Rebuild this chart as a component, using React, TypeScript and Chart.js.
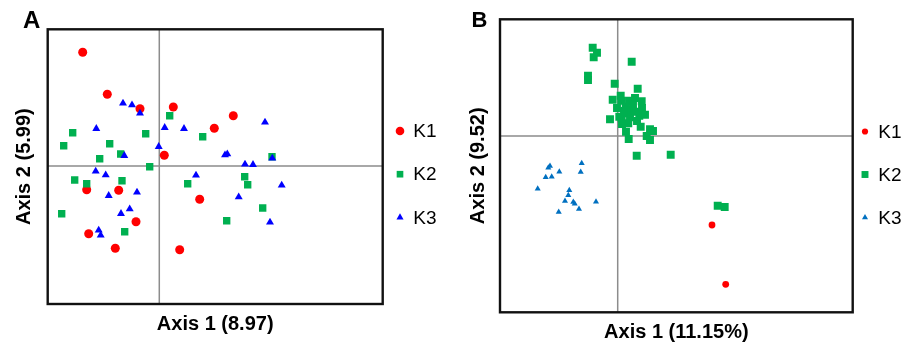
import React, { useEffect, useRef } from 'react';
import { Chart, registerables } from 'chart.js';
import { drawPoint } from 'chart.js/helpers';

Chart.register(...registerables);

type Pt = [number, number];

// ---------- shared ----------
const seriesLabels = ['K1', 'K2', 'K3'];
const seriesStyles = ['circle', 'rect', 'triangle'];

// ---------- panel A ----------
const aTitleX = 'Axis 1 (8.97)';
const aTitleY = 'Axis 2 (5.99)';
const aRangeX = [-1.116, 2.234];
const aRangeY = [-1.38, 1.367];

const aK1: Pt[] = [
  [-0.766, 1.137], [-0.52, 0.717], [-0.193, 0.573], [0.14, 0.59], [0.74, 0.503],
  [0.55, 0.377], [0.05, 0.107], [-0.726, -0.237], [-0.406, -0.243], [0.404, -0.333],
  [-0.233, -0.557], [-0.706, -0.677], [-0.44, -0.823], [0.204, -0.837],
];
const aK2: Pt[] = [
  [-0.866, 0.333], [-0.956, 0.203], [-0.496, 0.223], [-0.136, 0.323], [0.104, 0.503],
  [0.434, 0.293], [-0.596, 0.073], [-0.386, 0.12], [-0.096, -0.007], [1.127, 0.093],
  [-0.846, -0.14], [-0.726, -0.177], [-0.373, -0.147], [0.284, -0.177], [0.854, -0.107],
  [0.884, -0.187], [-0.976, -0.477], [1.034, -0.42], [0.674, -0.547], [-0.346, -0.657],
];
const aK3: Pt[] = [
  [-0.363, 0.627], [-0.273, 0.61], [-0.193, 0.527], [-0.63, 0.373], [0.054, 0.383],
  [0.247, 0.373], [1.057, 0.437], [-0.006, 0.193], [-0.35, 0.103], [0.657, 0.11],
  [0.68, 0.12], [0.857, 0.017], [0.937, 0.013], [1.13, 0.077], [-0.636, -0.053],
  [-0.536, -0.09], [0.367, -0.093], [1.224, -0.193], [-0.506, -0.297], [-0.223, -0.263],
  [0.794, -0.31], [-0.383, -0.477], [-0.296, -0.43], [1.107, -0.563], [-0.606, -0.643],
  [-0.586, -0.693],
];

// ---------- panel B ----------
const bTitleX = 'Axis 1 (11.15%)';
const bTitleY = 'Axis 2 (9.52)';
const bRangeX = [-1.177, 2.35];
const bRangeY = [-1.763, 1.167];

const bK1: Pt[] = [[0.943, -0.89], [1.08, -1.483]];
const bK2: Pt[] = [
  [-0.25, 0.883], [-0.207, 0.833], [-0.24, 0.787], [0.14, 0.743], [-0.297, 0.603],
  [-0.297, 0.56], [-0.03, 0.523], [0.2, 0.473], [-0.05, 0.363], [0.03, 0.403],
  [0.036, 0.353], [0.113, 0.353], [0.24, 0.347], [0.08, 0.293], [0.14, 0.26],
  [0.183, 0.243], [0.09, 0.227], [0.016, 0.193], [-0.077, 0.167], [0.04, 0.177],
  [0.123, 0.187], [0.216, 0.203], [0.273, 0.213], [0.106, 0.127], [0.23, 0.093],
  [0.083, 0.043], [0.323, 0.067], [0.353, 0.05], [0.29, 0.0], [0.323, -0.04],
  [0.11, -0.03], [0.19, -0.197], [0.53, -0.187], [1.0, -0.697], [1.07, -0.71],
  [0.153, 0.31], [0.063, 0.25], [0.193, 0.15], [-0.007, 0.28], [0.173, 0.38],
  [0.243, 0.28], [0.043, 0.12],
];
const bK3: Pt[] = [
  [-0.677, -0.3], [-0.694, -0.317], [-0.584, -0.357], [-0.36, -0.273], [-0.37, -0.36],
  [-0.72, -0.413], [-0.66, -0.407], [-0.8, -0.527], [-0.484, -0.543], [-0.494, -0.593],
  [-0.527, -0.65], [-0.444, -0.66], [-0.43, -0.677], [-0.387, -0.73], [-0.217, -0.657],
  [-0.59, -0.76],
];

const FONT = '"Liberation Sans", Arial, Helvetica, sans-serif';

const panelPlugin = {
  id: 'panel',
  beforeDatasetsDraw(chart: any, _a: any, o: any) {
    const { ctx, chartArea: a, scales } = chart;
    const x0 = scales.x.getPixelForValue(0);
    const y0 = scales.y.getPixelForValue(0);
    ctx.save();
    ctx.strokeStyle = o.crossColor;
    ctx.lineWidth = o.crossWidth;
    ctx.beginPath();
    ctx.moveTo(x0, a.top);
    ctx.lineTo(x0, a.bottom);
    ctx.moveTo(a.left, y0);
    ctx.lineTo(a.right, y0);
    ctx.stroke();
    ctx.restore();
  },
  afterDraw(chart: any, _a: any, o: any) {
    const { ctx, chartArea: a } = chart;
    ctx.save();
    ctx.strokeStyle = o.frameColor;
    ctx.lineWidth = o.frameWidth;
    ctx.strokeRect(a.left, a.top, a.right - a.left, a.bottom - a.top);
    // panel letter
    ctx.fillStyle = '#000';
    ctx.font = `bold ${o.letterSize}px ${FONT}`;
    ctx.textBaseline = 'alphabetic';
    ctx.textAlign = 'left';
    ctx.fillText(o.letter, o.letterX, o.letterY);
    // legend
    ctx.font = `${o.legendFont}px ${FONT}`;
    ctx.textBaseline = 'middle';
    chart.data.datasets.forEach((ds: any, i: number) => {
      const y = o.legendY + i * o.legendGap;
      ctx.fillStyle = ds.backgroundColor;
      drawPoint(ctx, { pointStyle: ds.pointStyle, radius: o.legendRadii[i], rotation: 0, borderWidth: 0 }, o.legendX, y);
      ctx.fillStyle = '#000';
      ctx.fillText(ds.label, o.legendX + o.legendTextGap, y + 1);
    });
    ctx.restore();
  },
};

function buildConfig(p: any) {
  const mk = (i: number, pts: Pt[]) => ({
    label: seriesLabels[i],
    data: pts.map(([x, y]) => ({ x, y })),
    pointStyle: seriesStyles[i],
    pointRadius: p.radii[i],
    pointHoverRadius: p.radii[i],
    backgroundColor: p.colors[i],
    borderColor: p.colors[i],
    borderWidth: 0,
    order: 3 - i,
  });
  const titleFont = { family: FONT, size: 20, weight: 'bold' as const, lineHeight: 1 };
  return {
    type: 'scatter' as const,
    data: { datasets: p.series.map((s: Pt[], i: number) => mk(i, s)) },
    plugins: [panelPlugin],
    options: {
      animation: false as const,
      responsive: false,
      events: [],
      layout: { padding: { left: 0, top: p.top, right: p.right, bottom: 0 } },
      scales: {
        x: {
          type: 'linear' as const,
          min: p.rangeX[0],
          max: p.rangeX[1],
          ticks: { display: false },
          grid: { display: false },
          border: { display: false },
          title: { display: true, text: p.titleX, color: '#000', font: titleFont, padding: { top: 0, bottom: p.xTitlePad } },
          afterFit: (s: any) => { s.height = p.xScaleH; },
        },
        y: {
          type: 'linear' as const,
          min: p.rangeY[0],
          max: p.rangeY[1],
          ticks: { display: false },
          grid: { display: false },
          border: { display: false },
          title: { display: true, text: p.titleY, color: '#000', font: titleFont, padding: { top: p.yTitlePad, bottom: 0 } },
          afterFit: (s: any) => { s.width = p.yScaleW; },
        },
      },
      plugins: {
        legend: { display: false },
        tooltip: { enabled: false },
        panel: {
          crossColor: '#8c8c8c',
          crossWidth: 1.5,
          frameColor: '#111111',
          frameWidth: 2.4,
          letter: p.letter,
          letterSize: p.letterSize,
          letterX: p.letterX,
          letterY: p.letterY,
          legendFont: 19,
          legendX: p.legendX,
          legendY: p.legendY,
          legendGap: p.legendGap,
          legendTextGap: 13.3,
          legendRadii: p.legendRadii,
        },
      },
    },
  };
}

const panelA = {
  series: [aK1, aK2, aK3],
  colors: ['#FF0000', '#00B050', '#0000FF'],
  radii: [4.5, 5.2, 4.6],
  rangeX: aRangeX, rangeY: aRangeY,
  titleX: aTitleX, titleY: aTitleY,
  top: 29.3, right: 57.3,
  xScaleH: 39, yScaleW: 47.7,
  xTitlePad: 9, yTitlePad: 14.5,
  letter: 'A', letterSize: 24, letterX: 23, letterY: 28.3,
  legendX: 400, legendY: 131, legendGap: 43.2, legendRadii: [4.3, 4.7, 4.1],
};

const panelB = {
  series: [bK1, bK2, bK3],
  colors: ['#FF0000', '#00B050', '#0070C0'],
  radii: [3.4, 5.6, 3.5],
  rangeX: bRangeX, rangeY: bRangeY,
  titleX: bTitleX, titleY: bTitleY,
  top: 19.3, right: 60.3,
  xScaleH: 30.7, yScaleW: 60,
  xTitlePad: 0.7, yTitlePad: 28.5,
  letter: 'B', letterSize: 22, letterX: 31.5, letterY: 27.3,
  legendX: 425, legendY: 131.5, legendGap: 43, legendRadii: [3.1, 4.9, 3.5],
};

function Panel({ cfg, left, width }: { cfg: any; left: number; width: number }) {
  const ref = useRef<HTMLCanvasElement | null>(null);
  useEffect(() => {
    if (!ref.current) return;
    const chart = new Chart(ref.current, buildConfig(cfg) as any);
    return () => chart.destroy();
  }, [cfg]);
  return (
    <canvas
      ref={ref}
      width={width}
      height={343}
      style={{ position: 'absolute', left, top: 0, width, height: 343, display: 'block' }}
    />
  );
}

export default function App() {
  return (
    <div style={{ position: 'absolute', left: 0, top: 0, width: 913, height: 343, background: '#fff', overflow: 'hidden' }}>
      <Panel cfg={panelA} left={0} width={440} />
      <Panel cfg={panelB} left={440} width={473} />
    </div>
  );
}
